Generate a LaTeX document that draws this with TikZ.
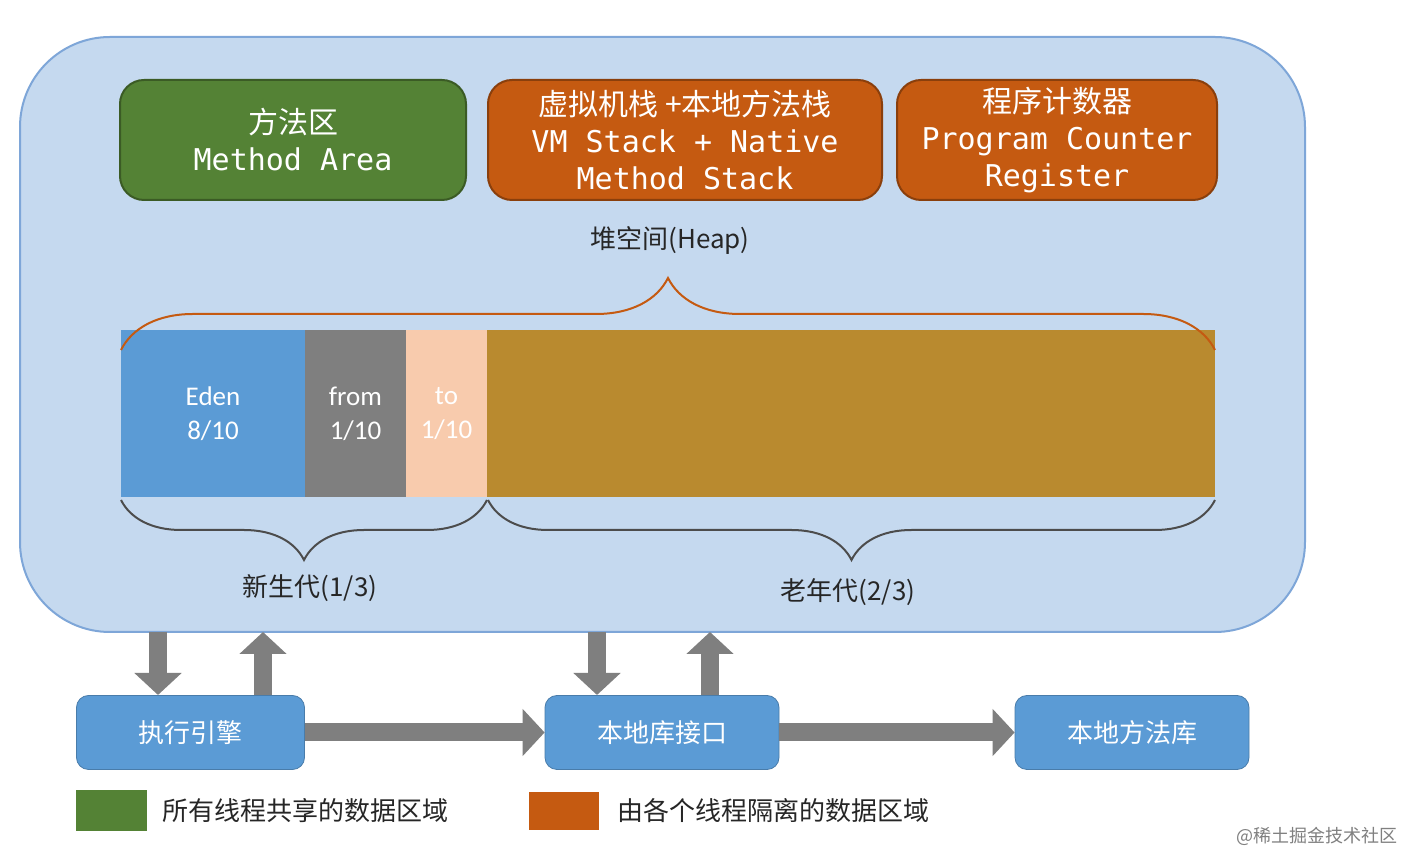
\documentclass[tikz,border=0pt]{standalone}
\usepackage{fontspec}
\setmainfont{Carlito}
\newfontfamily\cjk{Noto Sans CJK SC}
\newfontfamily\mono{DejaVu Sans Mono}
\usetikzlibrary{arrows.meta,decorations.pathreplacing}
\definecolor{bgb}{HTML}{C5D9EF}
\definecolor{bgbd}{HTML}{7EA6D8}
\definecolor{grn}{HTML}{548235}
\definecolor{org}{HTML}{C55A11}
\definecolor{blu}{HTML}{5B9BD5}
\definecolor{gry}{HTML}{7F7F7F}
\definecolor{pch}{HTML}{F8CBAD}
\definecolor{old}{HTML}{B98A2F}
\begin{document}
\begin{tikzpicture}[x=0.5pt,y=-0.5pt,
 area/.style={draw=#1!70!black,fill=#1,rounded corners=12pt,line width=1pt,text=white,align=center,font=\mono\fontsize{15}{18.5}\selectfont},
 bot/.style={draw=blu!80!black,fill=blu,rounded corners=6pt,text=white,font=\cjk\fontsize{13}{16}\selectfont},
 blk/.style={draw=none,fill=#1,text=white,align=center,font=\fontsize{13.5}{17}\selectfont},
 arr/.style={gry,line width=9pt,-{Triangle[length=11pt,width=23pt]}},
 lbl/.style={font=\cjk\fontsize{13}{16}\selectfont,text=black!85},
 br/.style={decorate,decoration={brace,amplitude=#1},line width=1pt}]
\useasboundingbox (0,0) rectangle (1410,854);
\fill[white] (0,0) rectangle (1410,854);
\draw[fill=bgb,draw=bgbd,line width=1pt,rounded corners=45pt] (20,37) rectangle (1305,632);
\node[area=grn,minimum width=173pt,minimum height=60pt] (ma) at (293,140) {{\cjk 方法区}\\Method Area};
\node[area=org,minimum width=197pt,minimum height=60pt] (vm) at (685,140) {{\cjk 虚拟机栈 +本地方法栈}\\VM Stack + Native\\Method Stack};
\node[area=org,minimum width=160pt,minimum height=60pt] (pc) at (1057,140) {{\cjk 程序计数器}\\Program Counter\\Register};
\node[lbl] (heap) at (670,240) {堆空间(Heap)};
\node[blk=blu,minimum width=92pt,minimum height=83.5pt] (eden) at (213,413.5) {Eden\\8/10};
\node[blk=gry,minimum width=50.5pt,minimum height=83.5pt] (from) at (355.5,413.5) {from\\1/10};
\node[blk=pch,minimum width=40.5pt,minimum height=83.5pt] (to) at (446.5,413.5) {to\\1/10};
\node[blk=old,minimum width=364pt,minimum height=83.5pt] (oldg) at (851,413.5) {};
\draw[br=36pt,org] (121,350) -- (1215,350);
\draw[br=30pt,black!70] (487,500) -- (121,500);
\draw[br=30pt,black!70] (1215,500) -- (488,500);
\node[lbl] (young) at (310,588) {新生代(1/3)};
\node[lbl] (oldl) at (848,592) {老年代(2/3)};
\node[bot,minimum width=114pt,minimum height=37pt] (exe) at (190.5,732.5) {执行引擎};
\node[bot,minimum width=117pt,minimum height=37pt] (nif) at (662,732.5) {本地库接口};
\node[bot,minimum width=117pt,minimum height=37pt] (nlib) at (1132,732.5) {本地方法库};
\draw[arr] (158,632) -- (158,695);
\draw[arr] (263,695) -- (263,632);
\draw[arr] (597,632) -- (597,695);
\draw[arr] (710,695) -- (710,632);
\draw[arr] (exe.east) -- (nif.west);
\draw[arr] (nif.east) -- (nlib.west);
\fill[grn] (76,790) rectangle (147,831);
\node[lbl,anchor=west] (l1) at (155,811) {所有线程共享的数据区域};
\fill[org] (529,792) rectangle (599,830);
\node[lbl,anchor=west] (l2) at (610,811) {由各个线程隔离的数据区域};
\node[font=\cjk\fontsize{9}{11}\selectfont,text=gray,anchor=east] (wm) at (1405,836) {@稀土掘金技术社区};
\end{tikzpicture}
\end{document}
